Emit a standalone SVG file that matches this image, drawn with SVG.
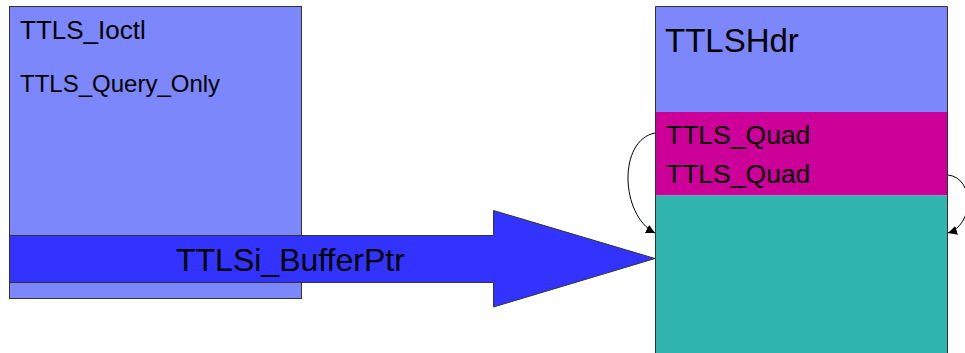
<svg xmlns="http://www.w3.org/2000/svg" width="965" height="353" viewBox="0 0 965 353">
  <style>
    text { font-family: "Liberation Sans", Arial, sans-serif; fill: #000; }
    .box { stroke: #333; stroke-width: 1; }
    .link { fill: none; stroke: #000; stroke-width: 1; }
  </style>
  <defs>
    <marker id="head" viewBox="0 0 10 10" refX="10" refY="5" markerWidth="9" markerHeight="9" markerUnits="userSpaceOnUse" orient="auto">
      <path d="M0,0 L10,5 L0,10 Z" fill="#000"/>
    </marker>
  </defs>
  <rect width="965" height="353" fill="#fff"/>

  <g id="ioctl-block">
    <rect class="box" x="9.5" y="6.5" width="292" height="292" fill="#7b87fb"/>
    <text x="20" y="39" font-size="26">TTLS_Ioctl</text>
    <text x="20" y="92" font-size="24">TTLS_Query_Only</text>
  </g>

  <g id="buffer-arrow">
    <polygon class="box" points="9.5,235.5 493.5,235.5 493.5,210.5 655,258.5 493.5,307 493.5,282.5 9.5,282.5" fill="#3333ff"/>
    <text x="176" y="271" font-size="32">TTLSi_BufferPtr</text>
  </g>

  <g id="ttls-buffer">
    <rect x="655.5" y="6.5" width="292" height="105.5" fill="#7b87fb"/>
    <rect x="655.5" y="112" width="292" height="83.5" fill="#cc0099"/>
    <rect x="655.5" y="195.5" width="292" height="160" fill="#30b5b1"/>
    <path class="box" d="M655.5,355 V6.5 H947.5 V355" fill="none"/>
    <text x="665" y="52" font-size="33">TTLSHdr</text>
    <text x="666" y="144" font-size="26.5">TTLS_Quad</text>
    <text x="666" y="183" font-size="26.5">TTLS_Quad</text>
  </g>

  <g id="connectors">
    <path class="link" d="M655,133 C618,140 620,215 655,233" marker-end="url(#head)"/>
    <path class="link" d="M948,175 C975,178 974,225 948,233" marker-end="url(#head)"/>
  </g>
</svg>
